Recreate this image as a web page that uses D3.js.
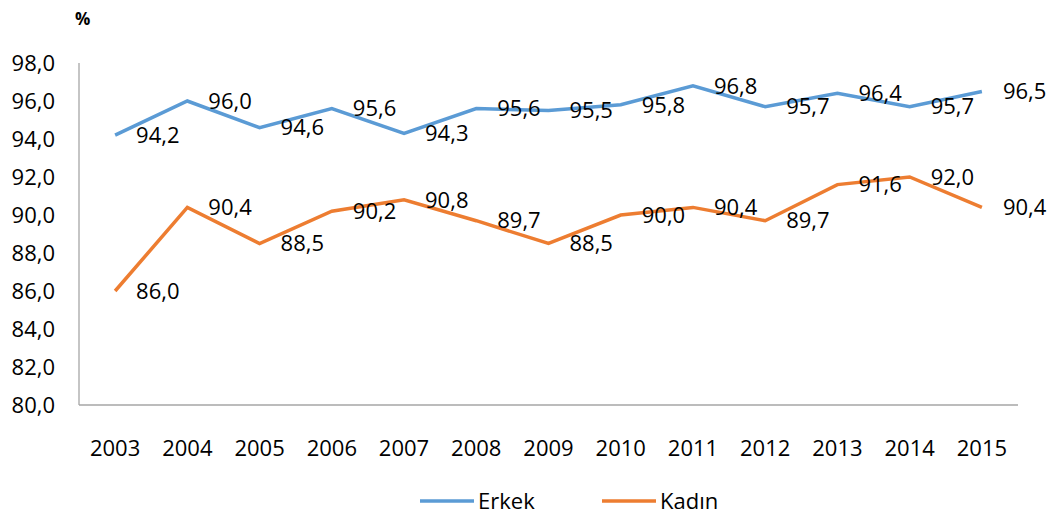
<!DOCTYPE html>
<html>
<head>
<meta charset="utf-8">
<script src="https://cdn.jsdelivr.net/npm/d3@7"></script>
<style>
  body { margin: 0; background: #fff; }
  svg { display: block; font-family: "Open Sans", sans-serif; }
</style>
</head>
<body>
<div id="chart"></div>
<script>
// Chart data
var years = ["2003", "2004", "2005", "2006", "2007", "2008", "2009", "2010", "2011", "2012", "2013", "2014", "2015"];
var erkek = [94.2, 96.0, 94.6, 95.6, 94.3, 95.6, 95.5, 95.8, 96.8, 95.7, 96.4, 95.7, 96.5];
var kadin = [86.0, 90.4, 88.5, 90.2, 90.8, 89.7, 88.5, 90.0, 90.4, 89.7, 91.6, 92.0, 90.4];
var yTicks = [80, 82, 84, 86, 88, 90, 92, 94, 96, 98];
var seriesNames = ["Erkek", "Kadın"];

var width = 1055, height = 514;
var plotLeft = 79, plotRight = 1018, plotTop = 63, plotBottom = 405;
var colors = ["#5B9BD5", "#ED7D31"];
var fontSize = "22px";

var fmt = function (v) { return v.toFixed(1).replace(".", ","); };

var svg = d3.select("#chart").append("svg")
    .attr("width", width)
    .attr("height", height);

var x = d3.scalePoint().domain(years).range([plotLeft, plotRight]).padding(0.5);
var y = d3.scaleLinear().domain([80, 98]).range([plotBottom, plotTop]);

// y axis labels
svg.selectAll(".ylab")
    .data(yTicks)
    .enter()
    .append("text")
    .attr("x", 55)
    .attr("y", d => y(d))
    .attr("dy", "0.35em")
    .attr("text-anchor", "end")
    .style("font-size", fontSize)
    .style("fill", "#000")
    .text(fmt);

// x axis labels
svg.selectAll(".xlab")
    .data(years)
    .enter()
    .append("text")
    .attr("x", d => x(d))
    .attr("y", 456)
    .attr("text-anchor", "middle")
    .style("font-size", fontSize)
    .style("fill", "#000")
    .text(d => d);

// axis lines
svg.append("line")
    .attr("x1", plotLeft).attr("x2", plotLeft)
    .attr("y1", plotTop).attr("y2", plotBottom)
    .style("stroke", "#A6A6A6").style("stroke-width", 1.3);
svg.append("line")
    .attr("x1", plotLeft).attr("x2", plotRight)
    .attr("y1", plotBottom).attr("y2", plotBottom)
    .style("stroke", "#A6A6A6").style("stroke-width", 1.3);

// % label
svg.append("text")
    .attr("x", 75)
    .attr("y", 25)
    .style("font-size", "17px")
    .style("font-weight", "bold")
    .text("%");

var line = d3.line()
    .x((d, i) => x(years[i]))
    .y(d => y(d));

[erkek, kadin].forEach(function (vals, k) {
    svg.append("path")
        .datum(vals)
        .attr("d", line)
        .style("fill", "none")
        .style("stroke", colors[k])
        .style("stroke-width", 3.5)
        .style("stroke-linejoin", "miter");

    svg.selectAll(".lab" + k)
        .data(vals)
        .enter()
        .append("text")
        .attr("x", (d, i) => x(years[i]) + 21)
        .attr("y", d => y(d))
        .attr("dy", "0.35em")
        .style("font-size", fontSize)
        .style("fill", "#000")
        .text(fmt);
});

// legend
var legendX = [420, 602];
seriesNames.forEach(function (name, k) {
    svg.append("line")
        .attr("x1", legendX[k]).attr("x2", legendX[k] + 54)
        .attr("y1", 501).attr("y2", 501)
        .style("stroke", colors[k])
        .style("stroke-width", 3.5);
    svg.append("text")
        .attr("x", legendX[k] + 58)
        .attr("y", 501)
        .attr("dy", "0.35em")
        .style("font-size", fontSize)
        .text(name);
});
</script>
</body>
</html>
